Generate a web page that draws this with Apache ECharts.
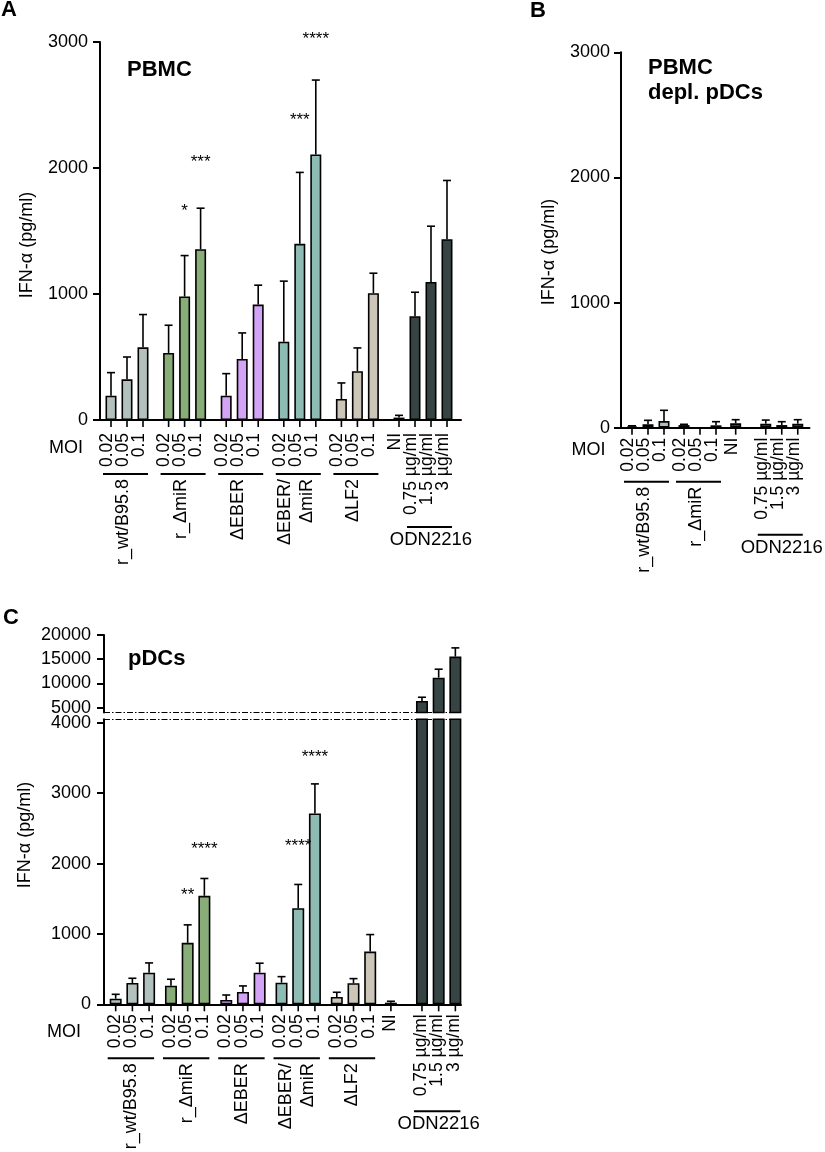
<!DOCTYPE html>
<html>
<head>
<meta charset="utf-8">
<script src="https://cdn.jsdelivr.net/npm/echarts@6.0.0/dist/echarts.min.js"></script>
<style>
html, body { margin: 0; padding: 0; background: #fff; }
#chart { width: 825px; height: 1152px; }
</style>
</head>
<body>
<div id="chart"></div>
<script>
// IFN-alpha (pg/ml), mean + upper SEM
var moi = ['0.02', '0.05', '0.1'];
var doses = ['0.75 µg/ml', '1.5 µg/ml', '3 µg/ml'];
var odnName = 'ODN2216';

// A - PBMC
var groupsA = ['r_wt/B95.8', 'r_ΔmiR', 'ΔEBER', 'ΔEBER/\nΔmiR', 'ΔLF2', '', odnName];
var ticksA = [moi, moi, moi, moi, moi, ['NI'], doses];
var valuesA = [193, 323, 577, 532, 980, 1356, 193, 485, 916, 622, 1398, 2108, 167, 387, 1006, 19, 824, 1096, 1435];
var semA = [183, 177, 260, 220, 325, 325, 175, 206, 154, 480, 567, 590, 127, 185, 159, 18, 190, 442, 466];
var starBarA = [4, 5, 10, 11];
var starTextA = ['*', '***', '***', '****'];
var starAtA = [1690, 2080, 2410, 3050];

// B - PBMC depleted of pDCs
var groupsB = ['r_wt/B95.8', 'r_ΔmiR', '', odnName];
var ticksB = [moi, moi, ['NI'], doses];
var valuesB = [12, 27, 53, 21, 0, 19, 35, 32, 21, 32];
var semB = [3, 32, 86, 6, 0, 29, 29, 29, 27, 32];

// C - pDCs (broken axis)
var groupsC = ['r_wt/B95.8', 'r_ΔmiR', 'ΔEBER', 'ΔEBER/\nΔmiR', 'ΔLF2', '', odnName];
var ticksC = [moi, moi, moi, moi, moi, ['NI'], doses];
var valuesC = [80, 303, 450, 265, 873, 1542, 61, 175, 450, 308, 1366, 2713, 104, 299, 749, 23, 6380, 11200, 15540];
var semC = [62, 67, 138, 91, 256, 246, 71, 86, 134, 85, 337, 419, 67, 66, 242, 20, 770, 1740, 1800];
var starBarC = [4, 5, 10, 11];
var starTextC = ['**', '****', '****', '****'];
var starAtC = [1600, 2260, 2300, 3570];

var colWt = '#b3c1be', colMiR = '#89ad79', colEber = '#d3a3f5',
    colEberMiR = '#8ebbb3', colLf2 = '#cdc6b8', colDark = '#364443';
var coloursA = [colWt, colMiR, colEber, colEberMiR, colLf2, colDark, colDark];
var coloursB = [colWt, colMiR, colDark, colDark];

var FONT = '"Liberation Sans", Arial, sans-serif';
var INK = '#000';

// bar slots: one unit per bar, extra gap (in bar units) before each group
function place(groups, ticks, gaps) {
  var p = { pos: [], labels: [], groupOf: [], first: [], last: [] };
  var x = 0;
  groups.forEach(function (g, gi) {
    x += gaps[gi];
    p.first.push(x);
    ticks[gi].forEach(function (t) {
      p.pos.push(x); p.labels.push(t); p.groupOf.push(gi); x += 1;
    });
    p.last.push(x - 1);
  });
  return p;
}

var layA = place(groupsA, ticksA, [0, .6, .6, .6, .6, .6, 0]);
var layB = place(groupsB, ticksB, [0, .25, .23, .88]);
var layC = place(groupsC, ticksC, [0, .31, .31, .31, .31, .24, .86]);

function barSeries(p, values, colours, ax, width, extra) {
  var s = {
    type: 'bar', xAxisIndex: ax, yAxisIndex: ax, barWidth: width, clip: true, z: 2,
    itemStyle: { borderColor: INK, borderWidth: 1.6 },
    data: values.map(function (v, i) {
      return { value: [p.pos[i], v], itemStyle: { color: colours[p.groupOf[i]] } };
    })
  };
  return Object.assign(s, extra || {});
}

function errorSeries(p, values, sem, ax, lo, hi) {
  return {
    type: 'custom', xAxisIndex: ax, yAxisIndex: ax, z: 3,
    encode: { x: 0, y: 1 },
    data: values.map(function (v, i) { return [p.pos[i], v, sem[i]]; }),
    renderItem: function (params, api) {
      var x = api.value(0), v = api.value(1), s = api.value(2);
      if (!s || v > hi || v + s < lo) return { type: 'group', children: [] };
      var a = api.coord([x, Math.max(v, lo)]);
      var b = api.coord([x, Math.min(v + s, hi)]);
      var st = { stroke: INK, lineWidth: 1.6 };
      var kids = [{ type: 'line', shape: { x1: a[0], y1: a[1], x2: b[0], y2: b[1] }, style: st }];
      if (v + s <= hi) {
        kids.push({ type: 'line', shape: { x1: b[0] - 4, y1: b[1], x2: b[0] + 4, y2: b[1] }, style: st });
      }
      return { type: 'group', children: kids };
    }
  };
}

// tick marks + rotated MOI / dose labels under each bar
function labelSeries(p, ax, shift, gap) {
  return {
    type: 'custom', xAxisIndex: ax, yAxisIndex: ax, z: 4,
    encode: { x: 0, y: 1 },
    data: p.pos.map(function (x) { return [x, 0]; }),
    renderItem: function (params, api) {
      var c = api.coord([api.value(0), 0]);
      return {
        type: 'group', children: [
          { type: 'line', shape: { x1: c[0], y1: c[1], x2: c[0], y2: c[1] + 7 },
            style: { stroke: INK, lineWidth: 1.6 } },
          { type: 'text', x: c[0] + shift, y: c[1] + gap, rotation: Math.PI / 2,
            style: { text: p.labels[params.dataIndex], font: '17.5px ' + FONT, fill: INK,
                     align: 'right', verticalAlign: 'middle' } }
        ]
      };
    }
  };
}

// underline + group name for each group of bars
function groupSeries(p, groups, ticks, ax, shift) {
  return {
    type: 'custom', xAxisIndex: ax, yAxisIndex: ax, z: 4,
    encode: { x: 0, y: 1 },
    data: groups.map(function (g, i) { return [p.first[i], 0, p.last[i]]; }),
    renderItem: function (params, api) {
      var i = params.dataIndex, name = groups[i];
      if (!name) return { type: 'group', children: [] };
      var a = api.coord([api.value(0), 0]);
      var b = api.coord([api.value(2), 0]);
      var long = ticks[i].some(function (t) { return t.length > 6; });
      var y = a[1] + (long ? 107 : 54);
      var mid = (a[0] + b[0]) / 2;
      var text = name === odnName
        ? { type: 'text', x: mid, y: y + 13,
            style: { text: name, font: '18.5px ' + FONT, fill: INK, align: 'center', verticalAlign: 'middle' } }
        : { type: 'text', x: mid + shift, y: y + 5, rotation: Math.PI / 2,
            style: { text: name, font: '18px ' + FONT, fill: INK, align: 'right', verticalAlign: 'middle',
                     lineHeight: 22 } };
      return {
        type: 'group', children: [
          { type: 'line', shape: { x1: a[0] - 8, y1: y, x2: b[0] + 5, y2: y },
            style: { stroke: INK, lineWidth: 2 } },
          text
        ]
      };
    }
  };
}

function starSeries(p, bars, texts, at, ax) {
  return {
    type: 'custom', xAxisIndex: ax, yAxisIndex: ax, z: 4,
    encode: { x: 0, y: 1 },
    data: bars.map(function (b, i) { return [p.pos[b], at[i]]; }),
    renderItem: function (params, api) {
      var c = api.coord([api.value(0), api.value(1)]);
      return { type: 'text', x: c[0], y: c[1] + 4,
               style: { text: texts[params.dataIndex], font: '17px ' + FONT, fill: INK,
                        align: 'center', verticalAlign: 'middle' } };
    }
  };
}

function xAxisOf(grid, min, pitch, width, show) {
  return {
    type: 'value', gridIndex: grid, min: min, max: min + width / pitch, show: show,
    axisLine: { show: true, onZero: false, lineStyle: { color: INK, width: 2 } },
    axisTick: { show: false }, axisLabel: { show: false }, splitLine: { show: false }
  };
}

function yAxisOf(grid, extra, margin) {
  return Object.assign({
    type: 'value', gridIndex: grid,
    axisLine: { show: true, onZero: false, lineStyle: { color: INK, width: 2 } },
    axisTick: { show: true, length: 7, lineStyle: { color: INK, width: 2 } },
    axisLabel: { color: INK, fontSize: 18, fontFamily: FONT, margin: margin,
                 formatter: function (v) { return String(v); } },
    splitLine: { show: false }
  }, extra);
}

var breakLine = function (v) {
  return {
    silent: true, symbol: ['none', 'none'], label: { show: false },
    lineStyle: { color: INK, width: 1.2, type: [6, 2, 1.5, 2] },
    data: [{ yAxis: v }]
  };
};

function txt(text, x, y, font) {
  return { type: 'text', x: x, y: y,
           style: { text: text, font: font, fill: INK, align: 'left', verticalAlign: 'middle' } };
}
function vtxt(text, x, y) {
  return { type: 'text', x: x, y: y, rotation: Math.PI / 2,
           style: { text: text, font: '18px ' + FONT, fill: INK, align: 'center', verticalAlign: 'middle' } };
}
function ctxt(text, x, y) {
  return { type: 'text', x: x, y: y,
           style: { text: text, font: '18px ' + FONT, fill: INK, align: 'center', verticalAlign: 'middle' } };
}

var bold = 'bold 22px ' + FONT;
var yName = 'IFN-α (pg/ml)';

var option = {
  backgroundColor: '#fff',
  animation: false,
  grid: [
    { left: 100, top: 42, width: 361, height: 378, containLabel: false, outerBoundsMode: 'none' },
    { left: 621, top: 52.3, width: 188.5, height: 375.4, containLabel: false, outerBoundsMode: 'none' },
    { left: 104, top: 635, width: 357, height: 77.5, containLabel: false, outerBoundsMode: 'none' },
    { left: 104, top: 719.3, width: 357, height: 285, containLabel: false, outerBoundsMode: 'none' }
  ],
  xAxis: [
    xAxisOf(0, -0.6875, 16, 361, true),
    xAxisOf(1, -0.6875, 16, 188.5, true),
    xAxisOf(2, -0.70, 16.7, 357, false),
    xAxisOf(3, -0.70, 16.7, 357, true)
  ],
  yAxis: [
    yAxisOf(0, { min: 0, max: 3000, interval: 1000 }, 12),
    yAxisOf(1, { min: 0, max: 3000, interval: 1000 }, 11),
    yAxisOf(2, { min: 4000, max: 20000, splitNumber: 3 }, 13),
    yAxisOf(3, { min: 0, max: 4050, interval: 1000 }, 13)
  ],
  series: [
    barSeries(layA, valuesA, coloursA, 0, 11),
    errorSeries(layA, valuesA, semA, 0, 0, 1e9),
    labelSeries(layA, 0, -4, 13),
    groupSeries(layA, groupsA, ticksA, 0, -4),
    starSeries(layA, starBarA, starTextA, starAtA, 0),

    barSeries(layB, valuesB, coloursB, 1, 11),
    errorSeries(layB, valuesB, semB, 1, 0, 1e9),
    labelSeries(layB, 1, -4, 10),
    groupSeries(layB, groupsB, ticksB, 1, -4),

    barSeries(layC, valuesC, coloursA, 2, 12, { markLine: breakLine(4000) }),
    errorSeries(layC, valuesC, semC, 2, 4000, 20000),
    barSeries(layC, valuesC, coloursA, 3, 12, { markLine: breakLine(4050) }),
    errorSeries(layC, valuesC, semC, 3, 0, 4050),
    labelSeries(layC, 3, -1, 10),
    groupSeries(layC, groupsC, ticksC, 3, -1),
    starSeries(layC, starBarC, starTextC, starAtC, 3)
  ],
  graphic: [
    txt('A', 1, 10, bold),
    txt('B', 530, 10.5, bold),
    txt('C', 3, 617.5, bold),
    txt('PBMC', 127, 69.5, bold),
    txt('PBMC', 648, 68, bold),
    txt('depl. pDCs', 648, 93, bold),
    txt('pDCs', 128, 658.5, bold),
    vtxt(yName, 27.5, 245),
    vtxt(yName, 549, 252),
    vtxt(yName, 25.5, 835),
    ctxt('MOI', 66, 448.3),
    ctxt('MOI', 588.5, 450),
    ctxt('MOI', 64, 1032)
  ]
};

var chart = echarts.init(document.getElementById('chart'), null, { renderer: 'canvas' });
chart.setOption(option);
</script>
</body>
</html>
